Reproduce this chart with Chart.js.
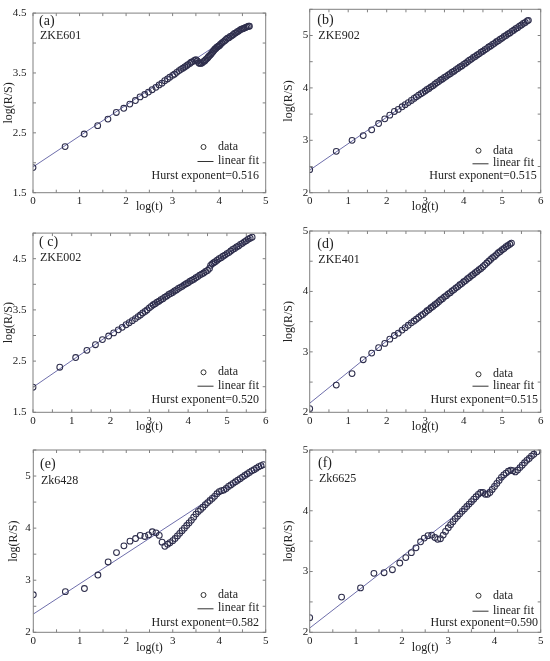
<!DOCTYPE html>
<html>
<head>
<meta charset="utf-8">
<script src="https://cdn.jsdelivr.net/npm/chart.js@4.4.1/dist/chart.umd.min.js"></script>
<style>
  body { margin: 0; background: #fff; }
  .panel { position: absolute; }
</style>
</head>
<body>
<canvas class="panel" id="pa" width="275" height="220" style="left:0;top:0"></canvas>
<canvas class="panel" id="pb" width="275" height="220" style="left:275px;top:0"></canvas>
<canvas class="panel" id="pc" width="275" height="220" style="left:0;top:220px"></canvas>
<canvas class="panel" id="pd" width="275" height="220" style="left:275px;top:220px"></canvas>
<canvas class="panel" id="pe" width="275" height="221" style="left:0;top:440px"></canvas>
<canvas class="panel" id="pf" width="275" height="221" style="left:275px;top:440px"></canvas>
<script>
// ---- data: log(t) vs log(R/S) ----
const xA = [0,0.69,1.10,1.39,1.61,1.79,1.95,2.08,2.20,2.30,2.40,2.48,2.56,2.64,2.71,2.77,2.83,2.89,2.94,3.00,3.04,3.09,3.14,3.18,3.22,3.26,3.30,3.33,3.37,3.40,3.43,3.47,3.50,3.53,3.56,3.58,3.61,3.64,3.66,3.69,3.71,3.74,3.76,3.78,3.81,3.83,3.85,3.87,3.89,3.91,3.93,3.95,3.97,3.99,4.01,4.03,4.06,4.09,4.12,4.15,4.18,4.21,4.24,4.27,4.30,4.33,4.36,4.39,4.42,4.45,4.48,4.51,4.54,4.57,4.60,4.63,4.65]
const yA = [1.92,2.27,2.48,2.62,2.73,2.84,2.91,2.98,3.04,3.10,3.14,3.18,3.22,3.26,3.30,3.33,3.37,3.40,3.43,3.46,3.48,3.51,3.54,3.56,3.58,3.60,3.62,3.64,3.66,3.68,3.69,3.71,3.72,3.70,3.67,3.66,3.66,3.67,3.69,3.70,3.72,3.74,3.76,3.78,3.80,3.82,3.84,3.86,3.88,3.90,3.91,3.93,3.94,3.95,3.96,3.98,4.00,4.02,4.04,4.06,4.08,4.09,4.11,4.12,4.14,4.16,4.17,4.19,4.20,4.22,4.23,4.24,4.25,4.26,4.27,4.28,4.28]
const fitXA = [0, 4.65]
const fitYA = [1.93, 4.33]

const xB = [0,0.69,1.10,1.39,1.61,1.79,1.95,2.08,2.20,2.30,2.40,2.48,2.56,2.64,2.71,2.77,2.83,2.89,2.94,3.00,3.05,3.10,3.15,3.20,3.25,3.30,3.35,3.40,3.45,3.50,3.55,3.60,3.65,3.70,3.75,3.80,3.85,3.90,3.95,4.00,4.05,4.10,4.15,4.20,4.25,4.30,4.35,4.40,4.45,4.50,4.55,4.60,4.65,4.70,4.75,4.80,4.85,4.90,4.95,5.00,5.05,5.10,5.15,5.20,5.25,5.30,5.35,5.40,5.45,5.50,5.55,5.60,5.65,5.68]
const yB = [2.44,2.79,3.00,3.09,3.20,3.32,3.41,3.48,3.55,3.59,3.64,3.68,3.72,3.76,3.80,3.83,3.86,3.89,3.91,3.94,3.97,3.99,4.02,4.04,4.07,4.10,4.12,4.15,4.17,4.20,4.22,4.25,4.27,4.30,4.32,4.35,4.37,4.40,4.42,4.45,4.47,4.50,4.53,4.55,4.58,4.60,4.63,4.65,4.68,4.70,4.73,4.75,4.78,4.80,4.83,4.85,4.88,4.90,4.93,4.95,4.98,5.00,5.03,5.05,5.08,5.10,5.13,5.15,5.18,5.20,5.23,5.25,5.28,5.29]
const fitXB = [0, 5.68]
const fitYB = [2.43, 5.30]

const xC = [0,0.69,1.10,1.39,1.61,1.79,1.95,2.08,2.20,2.30,2.40,2.48,2.56,2.64,2.71,2.77,2.83,2.89,2.94,3.00,3.05,3.10,3.15,3.20,3.25,3.30,3.35,3.40,3.45,3.50,3.55,3.60,3.65,3.70,3.75,3.80,3.85,3.90,3.95,4.00,4.05,4.10,4.15,4.20,4.25,4.30,4.35,4.40,4.45,4.50,4.55,4.58,4.62,4.66,4.70,4.75,4.80,4.85,4.90,4.95,5.00,5.05,5.10,5.15,5.20,5.25,5.30,5.35,5.40,5.45,5.50,5.55,5.60,5.65]
const yC = [1.99,2.38,2.57,2.71,2.82,2.92,2.99,3.05,3.11,3.16,3.21,3.25,3.29,3.33,3.37,3.40,3.44,3.47,3.50,3.54,3.57,3.60,3.62,3.65,3.67,3.70,3.72,3.75,3.77,3.80,3.82,3.84,3.87,3.89,3.92,3.94,3.96,3.99,4.01,4.03,4.06,4.08,4.10,4.13,4.15,4.18,4.20,4.22,4.25,4.27,4.31,4.37,4.40,4.42,4.44,4.47,4.50,4.52,4.55,4.57,4.60,4.62,4.65,4.68,4.70,4.73,4.75,4.78,4.80,4.83,4.85,4.88,4.90,4.92]
const fitXC = [0, 5.65]
const fitYC = [1.99, 4.93]

const xD = [0,0.69,1.10,1.39,1.61,1.79,1.95,2.08,2.20,2.30,2.40,2.48,2.56,2.64,2.71,2.77,2.83,2.89,2.94,3.00,3.05,3.10,3.15,3.20,3.25,3.30,3.35,3.40,3.45,3.50,3.55,3.60,3.65,3.70,3.75,3.80,3.85,3.90,3.95,4.00,4.05,4.10,4.15,4.20,4.25,4.30,4.35,4.40,4.45,4.50,4.55,4.60,4.65,4.70,4.75,4.80,4.85,4.90,4.95,5.00,5.05,5.10,5.15,5.20,5.24]
const yD = [2.06,2.45,2.64,2.87,2.98,3.07,3.14,3.21,3.27,3.31,3.36,3.40,3.44,3.48,3.51,3.54,3.57,3.60,3.62,3.65,3.68,3.70,3.73,3.75,3.78,3.80,3.83,3.86,3.88,3.91,3.93,3.96,3.98,4.01,4.03,4.06,4.08,4.11,4.13,4.16,4.18,4.21,4.23,4.26,4.28,4.31,4.33,4.36,4.38,4.41,4.44,4.47,4.50,4.53,4.56,4.58,4.61,4.64,4.66,4.69,4.71,4.74,4.76,4.78,4.80]
const fitXD = [0, 5.24]
const fitYD = [2.15, 4.85]

const xE = [0,0.69,1.10,1.39,1.61,1.79,1.95,2.08,2.20,2.30,2.40,2.48,2.56,2.64,2.71,2.77,2.83,2.89,2.94,3.00,3.05,3.10,3.15,3.20,3.25,3.30,3.35,3.40,3.45,3.50,3.55,3.60,3.65,3.70,3.75,3.80,3.85,3.90,3.95,4.00,4.05,4.10,4.15,4.20,4.25,4.30,4.35,4.40,4.45,4.50,4.55,4.60,4.65,4.70,4.75,4.80,4.85,4.90,4.95]
const yE = [2.72,2.78,2.84,3.10,3.35,3.53,3.66,3.75,3.80,3.86,3.84,3.87,3.93,3.91,3.86,3.73,3.65,3.69,3.72,3.76,3.80,3.85,3.90,3.95,4.00,4.05,4.10,4.15,4.21,4.27,4.32,4.36,4.40,4.45,4.49,4.53,4.57,4.61,4.66,4.70,4.72,4.73,4.76,4.80,4.83,4.86,4.89,4.92,4.95,4.98,5.01,5.04,5.07,5.10,5.12,5.15,5.18,5.20,5.22]
const fitXE = [0, 4.95]
const fitYE = [2.35, 5.23]

const xF = [0,0.69,1.10,1.39,1.61,1.79,1.95,2.08,2.20,2.30,2.40,2.48,2.56,2.64,2.71,2.77,2.83,2.89,2.94,3.00,3.05,3.10,3.15,3.20,3.25,3.30,3.35,3.40,3.45,3.50,3.55,3.60,3.65,3.70,3.75,3.80,3.85,3.90,3.95,4.00,4.05,4.10,4.15,4.20,4.25,4.30,4.35,4.40,4.45,4.50,4.55,4.60,4.65,4.70,4.75,4.80,4.85,4.92]
const yF = [2.24,2.58,2.73,2.97,2.98,3.03,3.14,3.23,3.31,3.39,3.49,3.55,3.59,3.60,3.56,3.53,3.54,3.60,3.66,3.72,3.77,3.82,3.87,3.91,3.95,3.99,4.03,4.07,4.11,4.15,4.19,4.23,4.27,4.30,4.30,4.27,4.27,4.30,4.35,4.40,4.45,4.50,4.55,4.59,4.62,4.65,4.67,4.66,4.64,4.67,4.71,4.75,4.79,4.83,4.86,4.90,4.93,4.97]
const fitXF = [0, 4.92]
const fitYF = [2.07, 4.97]

// tick labels
const yLabelsHalf = [1.5, 2.5, 3.5, 4.5]
const yLabelsInt = [2, 3, 4, 5]
const xLabels = [0, 1, 2, 3, 4, 5, 6]

const names = ['ZKE601', 'ZKE902', 'ZKE002', 'ZKE401', 'Zk6428', 'Zk6625']
const tags = ['(a)', '(b)', '( c)', '(d)', '(e)', '(f)']
const hurst = ['0.516', '0.515', '0.520', '0.515', '0.582', '0.590']

const SERIF = '"Liberation Serif", "Times New Roman", serif'
Chart.defaults.font.family = SERIF
Chart.defaults.color = '#222'

// MATLAB-ish box, inward ticks, panel tag and text legend
const matlabBox = {
    id: 'matlabBox',
    afterDraw(chart, args, o) {
        const { ctx, chartArea: a, scales: { x, y } } = chart
        ctx.save()
        ctx.strokeStyle = '#808080'
        ctx.lineWidth = 1
        ctx.strokeRect(a.left, a.top, a.right - a.left, a.bottom - a.top)
        ctx.beginPath()
        x.ticks.forEach(t => {
            const px = x.getPixelForValue(t.value)
            ctx.moveTo(px, a.bottom); ctx.lineTo(px, a.bottom - 3)
            ctx.moveTo(px, a.top); ctx.lineTo(px, a.top + 3)
        })
        y.ticks.forEach(t => {
            const py = y.getPixelForValue(t.value)
            ctx.moveTo(a.left, py); ctx.lineTo(a.left + 3, py)
            ctx.moveTo(a.right, py); ctx.lineTo(a.right - 3, py)
        })
        ctx.stroke()

        ctx.fillStyle = '#222'
        ctx.textBaseline = 'middle'
        ctx.textAlign = 'left'
        ctx.font = '14px ' + SERIF
        ctx.fillText(o.tag, o.tagPos[0], o.tagPos[1])
        ctx.font = '12px ' + SERIF
        ctx.fillText(o.name, o.tagPos[0] + 1, o.tagPos[2])

        // legend
        const [y1, y2, y3] = o.legY
        ctx.fillText('data', 218, y1)
        ctx.fillText('linear fit', 218, y2)
        ctx.textAlign = 'right'
        ctx.fillText('Hurst exponent=' + o.hurst, o.hurstRight, y3)
        ctx.strokeStyle = '#333'
        ctx.beginPath()
        ctx.arc(203.5, y1, 2.5, 0, Math.PI * 2)
        ctx.stroke()
        ctx.beginPath()
        ctx.moveTo(197.5, y2 + 0.5); ctx.lineTo(213.5, y2 + 0.5)
        ctx.stroke()
        ctx.restore()
    }
}

function makePanel(id, p) {
    const pts = p.xs.map((v, i) => ({ x: v, y: p.ys[i] }))
    const fit = p.fitX.map((v, i) => ({ x: v, y: p.fitY[i] }))
    const h = document.getElementById(id).height
    return new Chart(document.getElementById(id), {
        type: 'scatter',
        data: {
            datasets: [
                {
                    label: 'data', data: pts, showLine: false,
                    pointStyle: 'circle', pointRadius: 2.9, pointBorderWidth: 1.05,
                    borderColor: '#2e2e4c', backgroundColor: 'rgba(0,0,0,0)'
                },
                {
                    label: 'linear fit', data: fit, showLine: true,
                    borderColor: '#6e6eab', borderWidth: 1, pointRadius: 0
                }
            ]
        },
        options: {
            responsive: false,
            animation: false,
            layout: { padding: { top: p.top, right: 9.3, left: 0, bottom: 0 } },
            plugins: {
                legend: { display: false },
                tooltip: { enabled: false },
                matlabBox: {
                    tag: p.tag, name: p.name, hurst: p.hurst, tagPos: p.tagPos,
                    legY: p.legY, hurstRight: p.hurstRight
                }
            },
            scales: {
                x: {
                    type: 'linear', min: 0, max: p.xMax,
                    grid: { display: false, drawTicks: false, tickLength: 0 }, border: { display: false },
                    ticks: {
                        stepSize: 0.5, autoSkip: false, maxRotation: 0, padding: 2,
                        font: { size: 11 }, color: '#222',
                        callback: v => xLabels.includes(v) ? String(v) : ''
                    },
                    title: { display: true, text: 'log(t)', font: { size: 12 }, color: '#222', padding: { top: 0, bottom: 5.8 } },
                    afterFit: s => { s.height = h - p.bottom }
                },
                y: {
                    type: 'linear', min: p.yMin, max: p.yMax,
                    grid: { display: false, drawTicks: false, tickLength: 0 }, border: { display: false },
                    ticks: {
                        stepSize: 0.5, autoSkip: false, padding: p.labPad,
                        font: { size: 11 }, color: '#222',
                        callback: v => p.yLabels.includes(v) ? String(v) : ''
                    },
                    title: { display: true, text: 'log(R/S)', font: { size: 12 }, color: '#222', padding: { top: p.titlePad, bottom: 0 } },
                    afterFit: s => { s.width = p.left }
                }
            }
        },
        plugins: [matlabBox]
    })
}

makePanel('pa', { xs: xA, ys: yA, fitX: fitXA, fitY: fitYA, xMax: 5, yMin: 1.5, yMax: 4.5, yLabels: yLabelsHalf,
    left: 33, top: 9.3, bottom: 192.7, labPad: 6.5, titlePad: 2, tag: tags[0], name: names[0], hurst: hurst[0],
    tagPos: [39, 21.7, 36], legY: [147, 161, 176], hurstRight: 259 })
makePanel('pb', { xs: xB, ys: yB, fitX: fitXB, fitY: fitYB, xMax: 6, yMin: 2, yMax: 5.5, yLabels: yLabelsInt,
    left: 34.7, top: 9.3, bottom: 192.7, labPad: 1.5, titlePad: 7, tag: tags[1], name: names[1], hurst: hurst[1],
    tagPos: [42.3, 20.7, 36], legY: [150.7, 163.3, 175.7], hurstRight: 261.7 })
makePanel('pc', { xs: xC, ys: yC, fitX: fitXC, fitY: fitYC, xMax: 6, yMin: 1.5, yMax: 5, yLabels: yLabelsHalf,
    left: 33, top: 11, bottom: 192.3, labPad: 6.5, titlePad: 2, tag: tags[2], name: names[2], hurst: hurst[2],
    tagPos: [39, 22, 37.7], legY: [152.3, 165.7, 180.3], hurstRight: 259 })
makePanel('pd', { xs: xD, ys: yD, fitX: fitXD, fitY: fitYD, xMax: 6, yMin: 2, yMax: 5, yLabels: yLabelsInt,
    left: 34.7, top: 11, bottom: 192.3, labPad: 1.5, titlePad: 7, tag: tags[3], name: names[3], hurst: hurst[3],
    tagPos: [42.3, 24, 40], legY: [154.3, 165.7, 180.3], hurstRight: 263 })
makePanel('pe', { xs: xE, ys: yE, fitX: fitXE, fitY: fitYE, xMax: 5, yMin: 2, yMax: 5.5, yLabels: yLabelsInt,
    left: 33.3, top: 10, bottom: 192.3, labPad: 2.5, titlePad: 7, tag: tags[4], name: names[4], hurst: hurst[4],
    tagPos: [40, 24, 41], legY: [155, 168.3, 182.7], hurstRight: 259 })
makePanel('pf', { xs: xF, ys: yF, fitX: fitXF, fitY: fitYF, xMax: 5, yMin: 2, yMax: 5, yLabels: yLabelsInt,
    left: 34.7, top: 10, bottom: 192.3, labPad: 1.5, titlePad: 7, tag: tags[5], name: names[5], hurst: hurst[5],
    tagPos: [43, 23.3, 39], legY: [155.7, 170.7, 183.3], hurstRight: 263 })
</script>
</body>
</html>
